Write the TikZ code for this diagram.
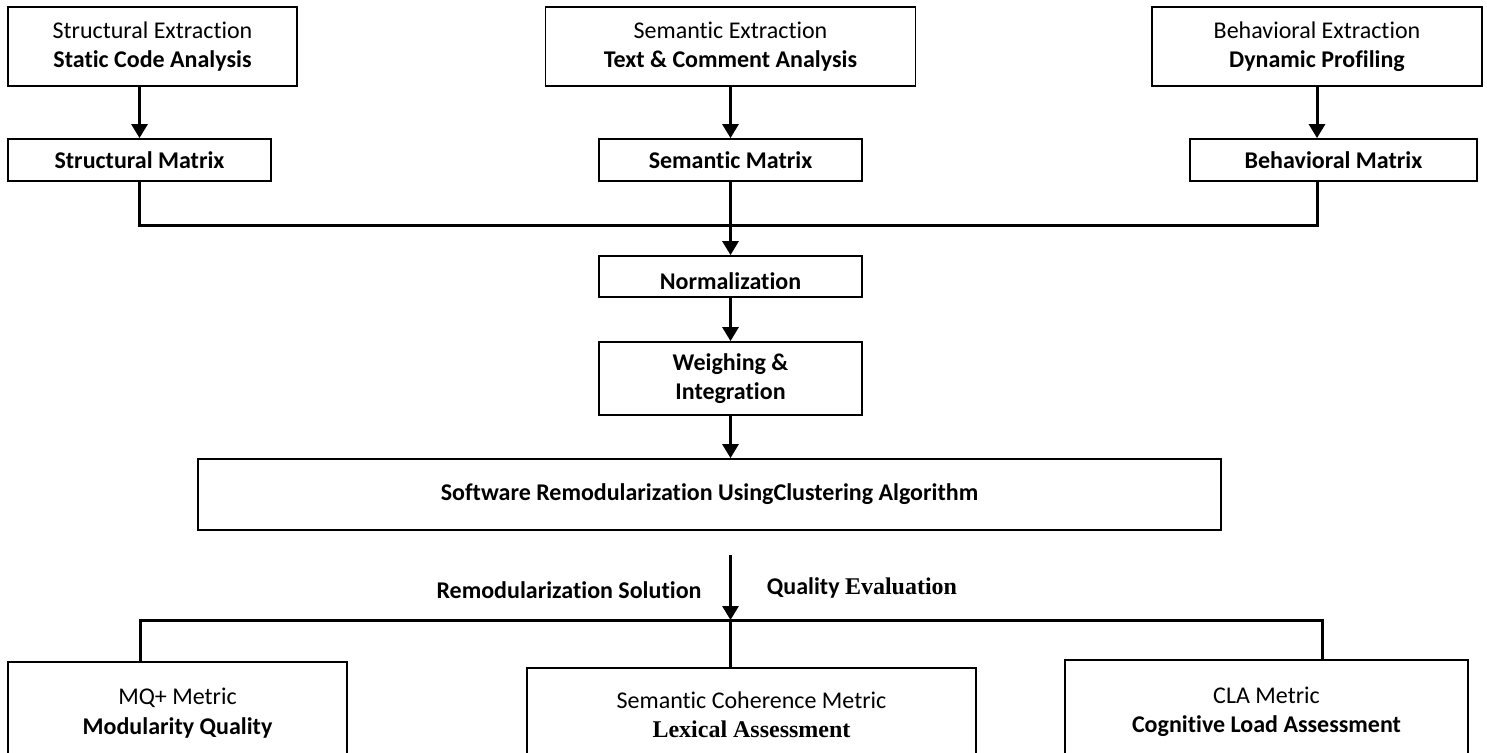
\documentclass[tikz,border=0pt]{standalone}
\usepackage{fontspec}
\setmainfont{Carlito}[Ligatures=NoCommon]
\newfontfamily\tnrfont{Liberation Serif}
\usepackage{tikz}
\usetikzlibrary{arrows.meta,positioning,calc}
\definecolor{ink}{RGB}{0,0,0}
\newcommand{\boxfont}{\fontsize{24}{29.5}\selectfont}
\tikzset{
  box/.style={draw=ink, line width=1.8pt, fill=white, align=center, inner sep=0pt, font=\boxfont},
  stage/.style={box, minimum height=79pt},
  mtx/.style={box, minimum height=42pt, font=\boxfont\bfseries},
  metric/.style={box, line width=1.6pt},
  flow/.style={draw=ink, line width=3pt, -{Triangle[length=14pt,width=16pt]}},
  bus/.style={draw=ink, line width=3pt},
  lbl/.style={font=\boxfont\bfseries, inner sep=1pt}
}

\begin{document}
\begin{tikzpicture}[x=1pt,y=-1pt]
  \clip (0,0) rectangle (1487,752);
  % extraction
  \node[stage, minimum width=289pt] (strx) at (152.5,46.5) {Structural Extraction\\\textbf{Static Code Analysis}};
  \node[stage, minimum width=370pt] (semx) at (730.5,46.5) {Semantic Extraction\\\textbf{Text \& Comment Analysis}};
  \node[stage, minimum width=330pt] (behx) at (1317,46.5) {Behavioral Extraction\\\textbf{Dynamic Profiling}};
  % matrices
  \node[mtx, minimum width=263pt] (strm) at (139.5,160) {Structural Matrix};
  \node[mtx, minimum width=263pt] (semm) at (730.5,160) {Semantic Matrix};
  \node[mtx, minimum width=287pt] (behm) at (1333.5,160) {Behavioral Matrix};
  \draw[flow] (strx.south -| strm.north) -- (strm.north);
  \draw[flow] (semx.south) -- (semm.north);
  \draw[flow] (behx.south) -- (behx.south |- behm.north);
  % merge
  \coordinate (merge) at (730.5,225);
  \draw[bus] (strm.south) |- (merge) -| (behx.south |- behm.south);
  \node[box, minimum width=263pt, minimum height=41pt] (norm) at (730.5,276.5) {};
  \begin{scope}
    \clip (norm.north west) rectangle ([yshift=9pt]norm.south east);
    \node[lbl] (normtxt) at ([yshift=-5pt]norm.center) {Normalization};
  \end{scope}
  \draw[flow] (semm.south) -- (norm.north);
  \node[box, font=\boxfont\bfseries, minimum width=263pt, minimum height=73pt] (weigh) at (730.5,378.5) {Weighing \&\\Integration};
  \draw[flow] (norm) -- (weigh);
  \node[box, font=\boxfont\bfseries, minimum width=1023pt, minimum height=71pt] (remod) at (709.5,494.5) {Software Remodularization UsingClustering Algorithm};
  \draw[flow] (weigh.south) -- (weigh.south |- remod.north);
  % evaluation
  \coordinate (sol) at (730.5,555);
  \coordinate (split) at (730.5,620);
  \coordinate (evl) at (140,620);
  \coordinate (evr) at (1322,620);
  \draw[flow] (sol) -- (split);
  \node[lbl] (sollbl) at (569,590) {Remodularization Solution};
  \node[lbl] (qlbl) at (862,588) {Quality {\tnrfont Evaluation}};
  \node[metric, minimum width=339pt, minimum height=102pt] (mq) at (177.5,713) {MQ+ Metric\\\textbf{Modularity Quality}};
  \node[metric, minimum width=449pt, minimum height=94pt] (coh) at (751.5,715) {Semantic Coherence Metric\\{\tnrfont\bfseries Lexical Assessment}};
  \node[metric, minimum width=403pt, minimum height=104pt] (cla) at (1266.5,712) {CLA Metric\\\textbf{Cognitive Load Assessment}};
  \draw[bus] (evl |- mq.north) -- (evl) -- (evr) -- (evr |- cla.north);
  \draw[bus] (split) -- (split |- coh.north);
\end{tikzpicture}
\end{document}
